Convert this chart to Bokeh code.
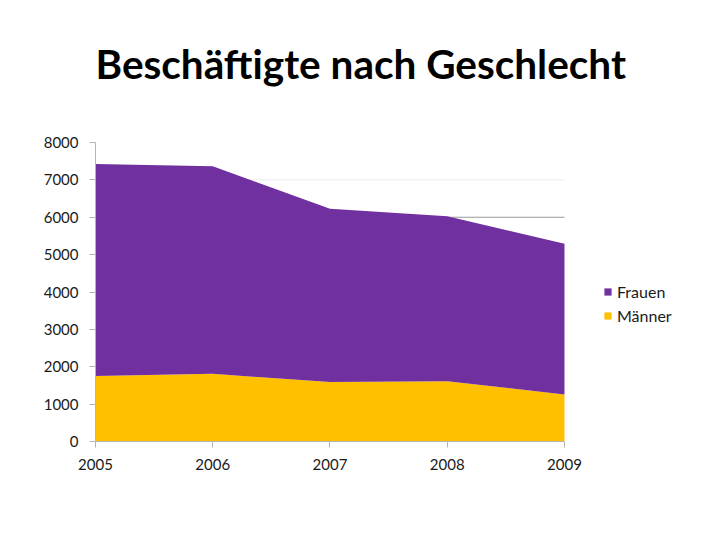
from bokeh.plotting import figure
from bokeh.models import FixedTicker, Legend, LegendItem, Range1d, ColumnDataSource, Title
from bokeh.embed import file_html
from bokeh.resources import INLINE

years = [2005, 2006, 2007, 2008, 2009]
maenner = [1750, 1810, 1590, 1610, 1260]
frauen = [5675, 5555, 4635, 4420, 4030]
y_ticks = [0, 1000, 2000, 3000, 4000, 5000, 6000, 7000, 8000]
grid_light = [7000]
grid_dark = [6000]
title_text = "Beschäftigte nach Geschlecht"

src = ColumnDataSource(dict(year=years, Maenner=maenner, Frauen=frauen))

# frame extends right of 2009 to host the legend; axis bounded to the data years
p = figure(width=704, height=524, output_backend="svg", toolbar_location=None,
           x_range=Range1d(2005, 2010.109), y_range=Range1d(0, 8000),
           min_border_left=95, min_border_right=10, min_border_top=142,
           min_border_bottom=83)
p.outline_line_color = None
p.background_fill_color = "white"
p.border_fill_color = "white"

p.title.text = title_text
p.title.text_font = "Lato"
p.title.text_font_size = "40.5px"
p.title.text_font_style = "bold"
p.title.text_color = "#000000"
p.title.align = "left"
p.title.offset = 0
p.title.standoff = 0

# empty spacer title between the real title and the plot
spacer = Title(text=" ", text_font_size="10px", standoff=42)
p.add_layout(spacer, "above")

p.xgrid.visible = False
p.ygrid.visible = False
# horizontal grid lines limited to the plotted years
p.segment(x0=[years[0]] * len(grid_light), x1=[years[-1]] * len(grid_light),
          y0=grid_light, y1=grid_light, line_color="#ebebeb", line_width=1)
p.segment(x0=[years[0]] * len(grid_dark), x1=[years[-1]] * len(grid_dark),
          y0=grid_dark, y1=grid_dark, line_color="#9a9a9a", line_width=1)

rs = p.varea_stack(stackers=["Maenner", "Frauen"], x="year", source=src,
                   color=["#FFC000", "#7030A0"])

for ax in (p.xaxis[0], p.yaxis[0]):
    ax.axis_line_color = "#b4b4b4"
    ax.major_tick_line_color = "#b4b4b4"
    ax.major_tick_in = 0
    ax.major_tick_out = 6
    ax.minor_tick_line_color = None
    ax.major_label_text_font = "Lato"
    ax.major_label_text_font_size = "15px"
    ax.major_label_text_color = "#1a1a1a"
p.xaxis.ticker = FixedTicker(ticks=years)
p.xaxis.bounds = (years[0], years[-1])
p.yaxis.ticker = FixedTicker(ticks=y_ticks)
p.xaxis.major_label_standoff = 11
p.yaxis.major_label_standoff = 11

legend = Legend(items=[LegendItem(label="Frauen", renderers=[rs[1]]),
                       LegendItem(label="Männer", renderers=[rs[0]])],
                location=(508, 116), orientation="vertical")
legend.border_line_color = None
legend.background_fill_alpha = 0
legend.padding = 0
legend.margin = 0
legend.spacing = 4
legend.glyph_width = 9
legend.glyph_height = 9
legend.label_height = 20
legend.label_standoff = 5
legend.label_text_font = "Lato"
legend.label_text_font_size = "16px"
legend.label_text_color = "#1a1a1a"
p.add_layout(legend, "center")

open("out.html", "w").write(file_html(p, INLINE))
